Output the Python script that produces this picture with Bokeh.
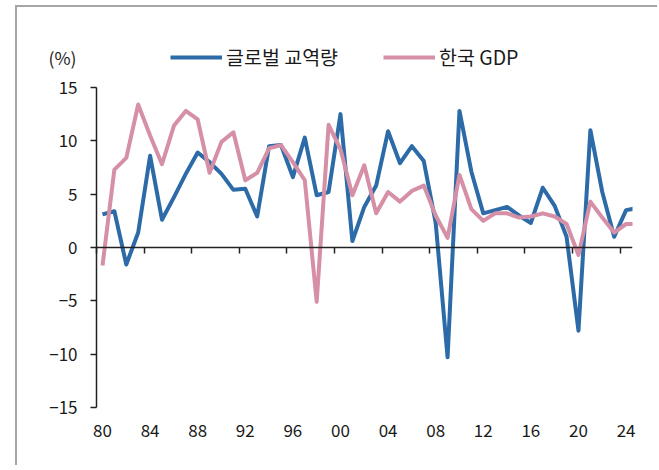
from bokeh.plotting import figure
from bokeh.models import (LinearAxis, FixedTicker, Range1d, ColumnDataSource,
                          Legend, LegendItem, Label, CustomJSTickFormatter)
from bokeh.embed import file_html
from bokeh.resources import INLINE

# ---- data -------------------------------------------------------------
years = list(range(1980, 2026))
trade = [3.1, 3.4, -1.6, 1.4, 8.6, 2.6, 4.7, 6.9, 8.9, 8.0,
         6.9, 5.4, 5.5, 2.9, 9.5, 9.6, 6.6, 10.3, 4.9, 5.2,
         12.5, 0.6, 3.8, 5.8, 10.9, 7.9, 9.5, 8.1, 2.3, -10.3,
         12.8, 7.1, 3.2, 3.5, 3.8, 3.0, 2.3, 5.6, 3.9, 1.0,
         -7.8, 11.0, 5.2, 1.0, 3.5, 3.7]
korea_gdp = [-1.7, 7.3, 8.4, 13.4, 10.5, 7.8, 11.4, 12.8, 12.0, 7.0,
             9.9, 10.8, 6.3, 7.0, 9.3, 9.6, 8.0, 6.3, -5.1, 11.5,
             9.2, 4.9, 7.7, 3.2, 5.2, 4.3, 5.3, 5.8, 3.0, 0.9,
             6.8, 3.6, 2.5, 3.2, 3.2, 2.8, 2.9, 3.2, 2.9, 2.2,
             -0.7, 4.3, 2.8, 1.4, 2.2, 2.2]
series_names = ["글로벌 교역량", "한국 GDP"]
x_tick_years = list(range(1980, 2025, 4))
x_tick_labels = ["80", "84", "88", "92", "96", "00", "04", "08", "12", "16", "20", "24"]
y_ticks = [-15, -10, -5, 0, 5, 10, 15]
y_tick_labels = ["\u221215", "\u221210", "\u22125", "0", "5", "10", "15"]
unit_label = "(%)"

X_START, X_END = 1974.45, 2025.04
Y_MIN, Y_MAX = -15, 15
Y_LOW, Y_TOP = -15.94, 19.59

BLUE = "#2C6BA7"
PINK = "#D58FA6"
FONT = "Noto Sans CJK KR"
TXT = "#1a1a1a"
AX = "#222222"

src = ColumnDataSource(dict(x=[y + 0.5 for y in years], trade=trade, gdp=korea_gdp))

p = figure(width=642, height=460, output_backend="svg", toolbar_location=None,
           x_range=Range1d(X_START, X_END), y_range=Range1d(Y_LOW, Y_TOP),
           x_axis_type=None, y_axis_type=None,
           min_border_left=13, min_border_top=31, min_border_bottom=50,
           min_border_right=27,
           styles={"border-left": "2px solid #a6a6a6", "border-top": "2px solid #a6a6a6",
                   "margin-left": "15px", "margin-top": "5px"})
p.outline_line_color = None
p.xgrid.visible = False
p.ygrid.visible = False
p.background_fill_color = "white"
p.border_fill_color = "white"

# y axis, drawn at 1980 and only between -15 and 15
yax = LinearAxis(ticker=FixedTicker(ticks=y_ticks), fixed_location=years[0],
                 bounds=(Y_MIN, Y_MAX))
yax.major_label_overrides = {t: l for t, l in zip(y_ticks, y_tick_labels)}
yax.axis_line_color = AX
yax.axis_line_width = 1.5
yax.major_tick_line_color = AX
yax.major_tick_line_width = 1.5
yax.major_tick_in = 0
yax.major_tick_out = 6
yax.minor_tick_line_color = None
yax.major_label_standoff = 13
yax.major_label_text_font = FONT
yax.major_label_text_font_size = "17px"
yax.major_label_text_color = TXT
p.add_layout(yax, "left")

# x labels axis (bottom)
xlab = LinearAxis(ticker=FixedTicker(ticks=[y + 0.5 for y in x_tick_years]))
xlab.formatter = CustomJSTickFormatter(
    args=dict(labels=x_tick_labels, start=x_tick_years[0]),
    code="return labels[Math.round((tick - 0.5 - start) / 4)];")
xlab.axis_line_color = None
xlab.major_tick_line_color = None
xlab.minor_tick_line_color = None
xlab.major_tick_out = 0
xlab.major_tick_in = 0
xlab.major_label_standoff = 6
xlab.major_label_text_font = FONT
xlab.major_label_text_font_size = "17px"
xlab.major_label_text_color = TXT
p.add_layout(xlab, "below")

# x axis line at zero with ticks
xzero = LinearAxis(ticker=FixedTicker(ticks=x_tick_years), fixed_location=0,
                   bounds=(years[0], X_END))
xzero.axis_line_color = AX
xzero.axis_line_width = 1.5
xzero.major_tick_line_color = AX
xzero.major_tick_line_width = 1.5
xzero.major_tick_in = 0
xzero.major_tick_out = 6
xzero.minor_tick_line_color = None
xzero.major_label_text_font_size = "0px"
xzero.major_label_text_alpha = 0
p.add_layout(xzero, "below")

r1 = p.line("x", "trade", source=src, line_color=BLUE, line_width=4, line_join="round")
r2 = p.line("x", "gdp", source=src, line_color=PINK, line_width=4, line_join="round")

legend = Legend(items=[LegendItem(label=series_names[0], renderers=[r1]),
                       LegendItem(label=series_names[1], renderers=[r2])],
                orientation="horizontal", location=(140, 346))
legend.background_fill_alpha = 0
legend.border_line_color = None
legend.padding = 0
legend.margin = 0
legend.spacing = 45
legend.glyph_width = 52
legend.glyph_height = 20
legend.label_height = 20
legend.label_standoff = 4
legend.label_text_font = FONT
legend.label_text_font_size = "19.5px"
legend.label_text_color = TXT
legend.label_text_baseline = "middle"
p.add_layout(legend, "center")

p.add_layout(Label(x=18, y=360, x_units="screen", y_units="screen", text=unit_label,
                   text_font=FONT, text_font_size="17.5px", text_color=TXT,
                   text_baseline="middle", text_align="left"))

open("out.html", "w").write(file_html(p, INLINE))
